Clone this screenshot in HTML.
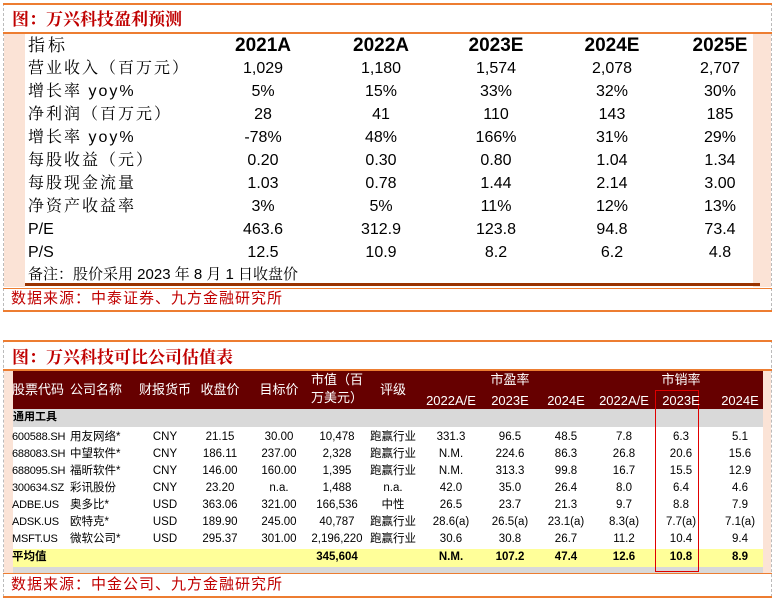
<!DOCTYPE html>
<html><head><meta charset="utf-8">
<style>
*{margin:0;padding:0;box-sizing:border-box}
body{width:775px;height:600px;background:#fff;position:relative;overflow:hidden;font-family:"Liberation Sans","Noto Sans CJK SC",sans-serif;color:#000}
.a{position:absolute;white-space:nowrap;line-height:1}
.c{transform:translateX(-50%)}
.hl{position:absolute;height:2px;background:#ed7d31}
.title{position:absolute;font-family:"Liberation Serif","Noto Serif CJK SC",serif;font-weight:bold;color:#c00000;font-size:17px;line-height:1}
.src{position:absolute;color:#c00000;font-size:15px;letter-spacing:1px;line-height:1}
</style></head><body>
<!-- box 1 -->
<div class="a" style="left:3px;top:3px;width:769px;height:308px;border-left:1px dashed #bbb;border-right:1px dashed #bbb"></div>
<div class="hl" style="left:3px;top:3px;width:769px"></div>
<div class="title" style="left:12px;top:11px">图：万兴科技盈利预测</div>
<div class="hl" style="left:3px;top:32px;width:769px"></div>
<div class="a" style="left:4px;top:34px;width:21px;height:253px;background:#fbe3d6"></div>
<div class="a" style="left:753px;top:34px;width:18px;height:253px;background:#fbe3d6"></div>
<div class="a" style="left:25px;top:283px;width:735px;height:3px;background:#993300"></div>
<div class="hl" style="left:3px;top:288px;width:769px;height:1px"></div>
<div class="src" style="left:11px;top:291px">数据来源：中泰证券、九方金融研究所</div>
<div class="hl" style="left:3px;top:310px;width:769px"></div>
<div id="t1"></div>

<!-- box 2 -->
<div class="a" style="left:3px;top:340px;width:769px;height:257px;border-left:1px dashed #bbb;border-right:1px dashed #bbb"></div>
<div class="hl" style="left:3px;top:340px;width:769px"></div>
<div class="title" style="left:12px;top:349px">图：万兴科技可比公司估值表</div>
<div class="hl" style="left:3px;top:369px;width:769px"></div>
<div class="a" style="left:4px;top:371px;width:9px;height:202px;background:#fbe3d6"></div>
<div class="a" style="left:763px;top:371px;width:8px;height:202px;background:#fbe3d6"></div>
<div class="a" style="left:13px;top:371px;width:750px;height:38px;background:#660000"></div>
<div class="a" style="left:13px;top:409px;width:750px;height:18px;background:#d9d9d9"></div>
<div class="a" style="left:13px;top:549px;width:750px;height:18px;background:#ffff99"></div>
<div class="a" style="left:13px;top:567px;width:750px;height:6px;background:#d9d9d9"></div>
<div class="hl" style="left:3px;top:573px;width:769px;height:1px"></div>
<div class="src" style="left:11px;top:577px">数据来源：中金公司、九方金融研究所</div>
<div class="hl" style="left:3px;top:596px;width:769px"></div>
<div class="a" style="left:655px;top:390px;width:44px;height:182px;border:1.5px solid #e00000"></div>
<div id="t2"></div>

<script>
const t1Years=["2021A","2022A","2023E","2024E","2025E"];
const t1Labels=["营业收入（百万元）","增长率 yoy%","净利润（百万元）","增长率 yoy%","每股收益（元）","每股现金流量","净资产收益率","P/E","P/S"];
const t1Values=[
["1,029","1,180","1,574","2,078","2,707"],
["5%","15%","33%","32%","30%"],
["28","41","110","143","185"],
["-78%","48%","166%","31%","29%"],
["0.20","0.30","0.80","1.04","1.34"],
["1.03","0.78","1.44","2.14","3.00"],
["3%","5%","11%","12%","13%"],
["463.6","312.9","123.8","94.8","73.4"],
["12.5","10.9","8.2","6.2","4.8"]];
const t2Rows=[
["600588.SH","用友网络*","CNY","21.15","30.00","10,478","跑赢行业","331.3","96.5","48.5","7.8","6.3","5.1"],
["688083.SH","中望软件*","CNY","186.11","237.00","2,328","跑赢行业","N.M.","224.6","86.3","26.8","20.6","15.6"],
["688095.SH","福昕软件*","CNY","146.00","160.00","1,395","跑赢行业","N.M.","313.3","99.8","16.7","15.5","12.9"],
["300634.SZ","彩讯股份","CNY","23.20","n.a.","1,488","n.a.","42.0","35.0","26.4","8.0","6.4","4.6"],
["ADBE.US","奥多比*","USD","363.06","321.00","166,536","中性","26.5","23.7","21.3","9.7","8.8","7.9"],
["ADSK.US","欧特克*","USD","189.90","245.00","40,787","跑赢行业","28.6(a)","26.5(a)","23.1(a)","8.3(a)","7.7(a)","7.1(a)"],
["MSFT.US","微软公司*","USD","295.37","301.00","2,196,220","跑赢行业","30.6","30.8","26.7","11.2","10.4","9.4"]];
const t2Avg=["平均值","","","","","345,604","","N.M.","107.2","47.4","12.6","10.8","8.9"];

function txt(parent,s,x,y,style,center){
  const d=document.createElement('div');
  d.className='a'+(center?' c':'');
  d.style.cssText='left:'+x+'px;top:'+y+'px;'+style;
  d.textContent=s;
  parent.appendChild(d);
  return d;
}
const t1=document.getElementById('t1');
const xs1=[263,381,496,612,720];
const cjk1='font-family:"Liberation Sans","Noto Serif CJK SC",serif;font-size:16px;letter-spacing:2px;';
let e=txt(t1,"指标",28,37,cjk1+'font-size:17px;letter-spacing:3px');


t1Years.forEach((y,i)=>{
  const h=txt(t1,y,xs1[i],36,'font-size:19px;font-weight:bold',true);
  
  
});
t1Labels.forEach((l,r)=>{
  const ty=61+r*23;
  const isLatin=/^P\//.test(l);
  const le=txt(t1,l,28,ty,isLatin?'font-size:16px':cjk1);
  
  
  t1Values[r].forEach((v,i)=>{
    const ve=txt(t1,v,xs1[i],ty,'font-size:16px',true);
    
    
  });
});
e=txt(t1,"备注：股价采用 2023 年 8 月 1 日收盘价",28,267,'font-size:15px;font-family:"Liberation Sans","Noto Serif CJK SC",serif');



const t2=document.getElementById('t2');
const xs2=[12,70,165,220,279,337,393,451,510,566,624,681,740];
const hs='color:#fff;font-size:13px;';
const heads=["股票代码","公司名称","财报货币","收盘价","目标价","","评级"];
heads.forEach((h,i)=>{
  if(!h)return;
  const he=txt(t2,h,xs2[i],383,hs,i>=2);
  
  
});
e=txt(t2,"市值（百",337,373,hs,true);


e=txt(t2,"万美元）",337,391,hs,true);


e=txt(t2,"市盈率",510,373,hs,true);


e=txt(t2,"市销率",681,373,hs,true);


["2022A/E","2023E","2024E","2022A/E","2023E","2024E"].forEach((y,i)=>{
  const ye=txt(t2,y,xs2[7+i],394,hs,true);
  
  
});
e=txt(t2,"通用工具",13,412,'font-size:11px;font-weight:bold');


t2Rows.forEach((row,r)=>{
  const ty=432+r*17;
  row.forEach((v,i)=>{
    const ce=txt(t2,v,xs2[i],ty,i===0?'font-size:11px;letter-spacing:-0.2px':'font-size:11.5px',i>=2);
    
    
  });
});
t2Avg.forEach((v,i)=>{
  if(!v)return;
  const ae=txt(t2,v,xs2[i],552,'font-size:11.5px;font-weight:bold',i>=2);
  
  
});
</script>
</body></html>
